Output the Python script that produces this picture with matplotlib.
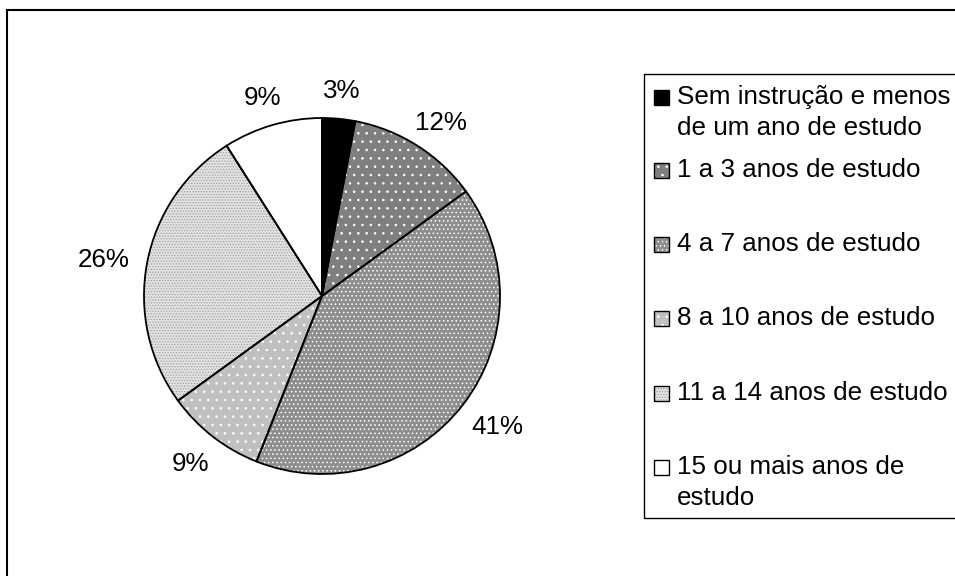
import numpy as np
import matplotlib
matplotlib.use('Agg')
import matplotlib.pyplot as plt
from matplotlib.patches import Rectangle

plt.rcParams['font.family'] = ['Liberation Sans', 'DejaVu Sans']
plt.rcParams['hatch.linewidth'] = 0.6

# data
categories = ['Sem instrução e menos\nde um ano de estudo',
              '1 a 3 anos de estudo',
              '4 a 7 anos de estudo',
              '8 a 10 anos de estudo',
              '11 a 14 anos de estudo',
              '15 ou mais anos de\nestudo']
shares = [3, 12, 41, 9, 26, 9]

# styles
face_colors = ['#000000', '#7f7f7f', '#8e8e8e', '#c0c0c0', '#e2e2e2', '#ffffff']
hatch_colors = ['#000000', '#ffffff', '#ffffff', '#ffffff', '#a0a0a0', '#ffffff']
hatches = [None, '..', '....', '..', '......', None]

W, H = 955, 576
fig = plt.figure(figsize=(W / 100, H / 100), dpi=100)

# outer frame (cropped on the right and bottom)
fig.patches.append(Rectangle((7 / W, -0.1), 2, (H - 10) / H + 0.1, transform=fig.transFigure,
                             fill=False, edgecolor='black', linewidth=1.5, zorder=0))

cx, cy, r = 322, 296, 178
ax = fig.add_axes([(cx - r) / W, (H - cy - r) / H, 2 * r / W, 2 * r / H])

# filled + hatched wedges, no outline
wedges, texts, autotexts = ax.pie(shares, startangle=90, counterclock=False, radius=1,
                                  autopct='%1.0f%%', pctdistance=1.2,
                                  textprops=dict(fontsize=18.7, color='black'),
                                  wedgeprops=dict(linewidth=0))
for w, fc, hc, h in zip(wedges, face_colors, hatch_colors, hatches):
    w.set_facecolor(fc)
    w.set_edgecolor(hc)
    w.set_linewidth(0)
    if h:
        w.set_hatch(h)

# black outlines on top
ax.pie(shares, startangle=90, counterclock=False, radius=1,
       wedgeprops=dict(facecolor='none', edgecolor='black', linewidth=1.3))
ax.set_xlim(-1, 1)
ax.set_ylim(-1, 1)
ax.set_aspect('auto')
ax.axis('off')

# place labels "outside end": box edge just off the rim
renderer = fig.canvas.get_renderer()
gap = 18 / r
for w, t in zip(wedges, autotexts):
    ang = np.deg2rad((w.theta1 + w.theta2) / 2)
    bb = t.get_window_extent(renderer)
    hw, hh = bb.width / 2 / r, 13 / r
    t.set_position(((1 + gap + hw) * np.cos(ang), (1 + gap + hh) * np.sin(ang) - 3 / r))
    t.set_ha('center')
    t.set_va('center')

# legend box
lx, ly_top, ly_bot = 644, 74, 518
fig.patches.append(Rectangle((lx / W, 1 - ly_bot / H), 1, (ly_bot - ly_top) / H,
                             transform=fig.transFigure, fill=False,
                             edgecolor='black', linewidth=1.0))

line_y = [97, 170, 244, 318, 393, 467]
box = 15
for lab, fc, hc, h, y in zip(categories, face_colors, hatch_colors, hatches, line_y):
    x0, y0 = 654 / W, 1 - (y + box / 2) / H
    sq = Rectangle((x0, y0), box / W, box / H, transform=fig.transFigure,
                   facecolor=fc, edgecolor=hc, linewidth=0, hatch=h)
    fig.patches.append(sq)
    fig.patches.append(Rectangle((x0, y0), box / W, box / H, transform=fig.transFigure,
                                 facecolor='none', edgecolor='black', linewidth=1.0))
    fig.text(677 / W, 1 - (y - 12) / H, lab, fontsize=18.7, va='top', ha='left',
             linespacing=1.38)

fig.savefig('out.png', dpi=100)
